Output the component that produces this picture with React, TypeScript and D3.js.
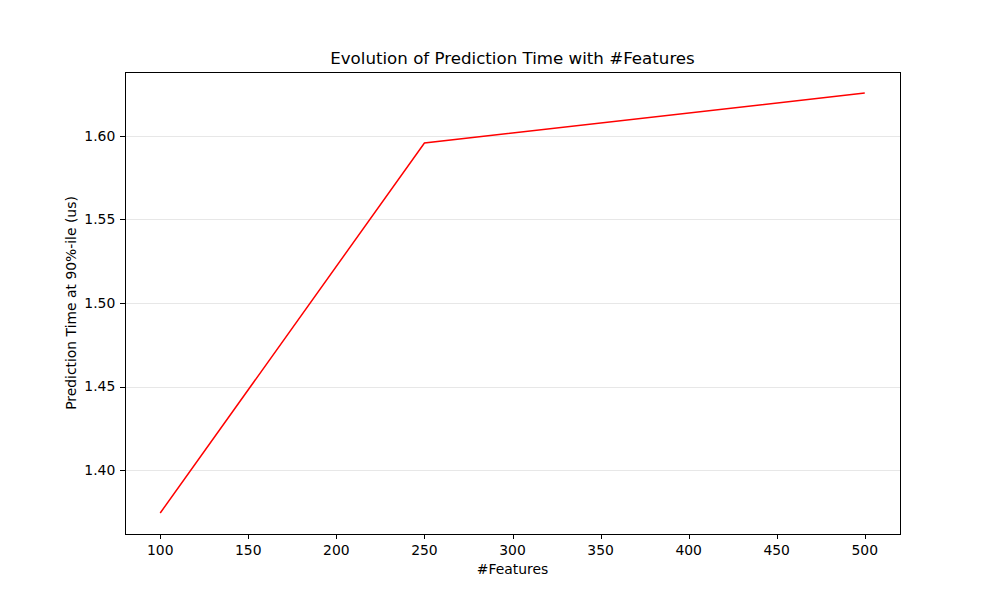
import React from "react";
import * as d3 from "d3";

const features = [100, 250, 500];
const predTimes = [1.3744, 1.5957, 1.6256];
const xTicks = [100, 150, 200, 250, 300, 350, 400, 450, 500];
const yTicks = [1.4, 1.45, 1.5, 1.55, 1.6];
const title = "Evolution of Prediction Time with #Features";
const xLabel = "#Features";
const yLabel = "Prediction Time at 90%-ile (us)";

export default function App() {
  const W = 1000, H = 600;
  const left = 125, right = 900, top = 72, bottom = 534;
  const xMin = d3.min(features)!, xMax = d3.max(features)!;
  const yMin = d3.min(predTimes)!, yMax = d3.max(predTimes)!;
  const xm = (xMax - xMin) * 0.05, ym = (yMax - yMin) * 0.05;
  const x = d3.scaleLinear().domain([xMin - xm, xMax + xm]).range([left, right]);
  const y = d3.scaleLinear().domain([yMin - ym, yMax + ym]).range([bottom, top]);
  const line = d3.line<number>().x((_, i) => x(features[i])).y((d) => y(d));
  const font = "DejaVu Sans, sans-serif";
  return (
    <svg width={W} height={H} style={{ position: "absolute", left: 0, top: 0 }} fontFamily={font}>
      <rect x={0} y={0} width={W} height={H} fill="#fff" />
      {yTicks.map((t) => (
        <line key={"g" + t} x1={left} x2={right} y1={Math.round(y(t)) + 0.5} y2={Math.round(y(t)) + 0.5} stroke="#b0b0b0" strokeOpacity={0.3} strokeWidth={1} />
      ))}
      <path d={line(predTimes) || ""} fill="none" stroke="#ff0000" strokeWidth={1.5} />
      <rect x={left + 0.5} y={top + 0.5} width={right - left} height={bottom - top} fill="none" stroke="#000" strokeWidth={1} shapeRendering="crispEdges" />
      {xTicks.map((t) => (
        <g key={"x" + t}>
          <line x1={Math.round(x(t)) + 0.5} x2={Math.round(x(t)) + 0.5} y1={bottom} y2={bottom + 4.86} stroke="#000" strokeWidth={1} shapeRendering="crispEdges" />
          <text x={x(t)} y={554.5} textAnchor="middle" fontSize={13.9} fill="#000">{t}</text>
        </g>
      ))}
      {yTicks.map((t) => (
        <g key={"y" + t}>
          <line x1={left - 4.86} x2={left} y1={Math.round(y(t)) + 0.5} y2={Math.round(y(t)) + 0.5} stroke="#000" strokeWidth={1} shapeRendering="crispEdges" />
          <text x={115.3} y={y(t)} dy="0.35em" textAnchor="end" fontSize={13.9} fill="#000">{t.toFixed(2)}</text>
        </g>
      ))}
      <text x={(left + right) / 2} y={574} textAnchor="middle" fontSize={13.9} fill="#000">{xLabel}</text>
      <text transform={`translate(75.5,${(top + bottom) / 2}) rotate(-90)`} textAnchor="middle" fontSize={13.9} fill="#000">{yLabel}</text>
      <text x={(left + right) / 2} y={63.7} textAnchor="middle" fontSize={16.67} fill="#000">{title}</text>
    </svg>
  );
}
